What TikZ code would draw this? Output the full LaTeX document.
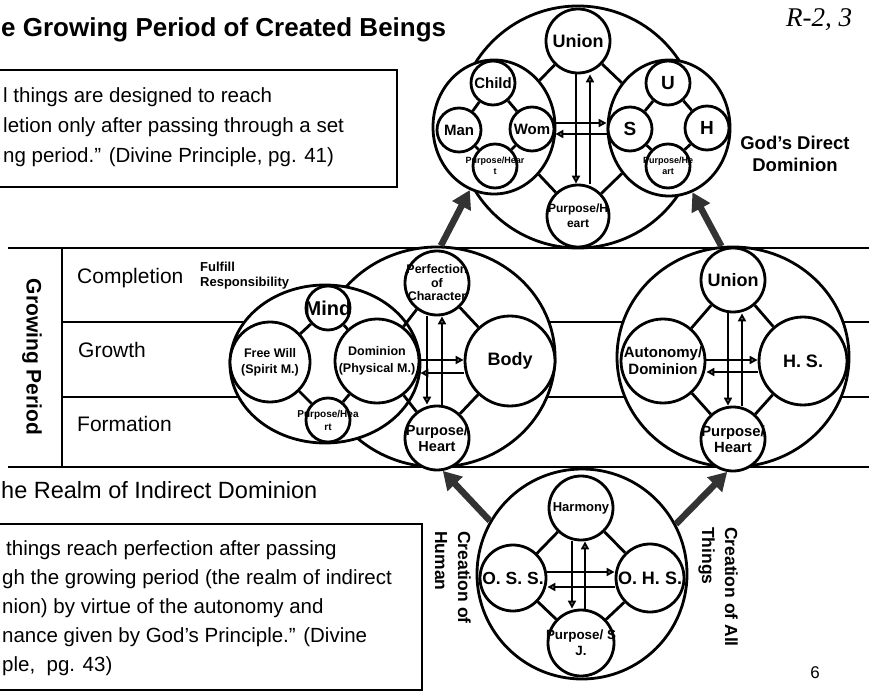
\documentclass[tikz,border=0pt]{standalone}
\usepackage{fontspec}
\setmainfont{Liberation Sans}
\newfontfamily\seriffont{Liberation Serif}
\usetikzlibrary{shapes.geometric,arrows.meta}

\newcommand{\fsz}[2]{\fontsize{#1}{#2}\selectfont}

\tikzset{
  ring/.style={circle, draw, line width=2.8pt, fill=white, inner sep=0pt},
  oval/.style={ellipse, draw, line width=2.8pt, fill=white, inner sep=0pt},
  lbl/.style={align=center, inner sep=0pt},
  link/.style={line width=2.8pt},
  flow/.style={line width=2pt, -{Triangle[open,length=8pt,width=8pt]}},
  bigarrow/.style={line width=6.5pt, black!80, -{Triangle[length=18pt,width=20pt]}},
  rule/.style={line width=2pt},
}

\begin{document}
\begin{tikzpicture}[x=1pt, y=-1pt]
                \useasboundingbox (0,0) rectangle (869,692);
                \fill[white] (0,0) rectangle (869,692);

                % Title and quote boxes
                \node[anchor=west, inner sep=0pt, font=\fsz{26}{30}\bfseries] (title) at (1,30) {e Growing Period of Created Beings};
                \node[font=\seriffont\itshape\fsz{27}{30}] (ref) at (819,20) {R-2, 3};
                \draw[line width=1.5pt] (-5,70) rectangle (397,187);
                \node[anchor=west, align=left, inner sep=0pt, font=\fsz{20.5}{30}] (quoteA) at (3,127)
                  {l things are designed to reach\\letion only after passing through a set\\ng period.” (Divine Principle, pg. 41)};
                \node[anchor=west, inner sep=0pt, font=\fsz{23.5}{28}] (realm) at (1,490) {he Realm of Indirect Dominion};
                \draw[line width=1.5pt] (-5,524) rectangle (422,690);
                \node[anchor=west, align=left, inner sep=0pt, font=\fsz{20.5}{29}] (quoteB) at (2,608)
                  {\hspace*{4pt}things reach perfection after passing\\gh the growing period (the realm of indirect\\nion) by virtue of the autonomy and\\nance given by God’s Principle.” (Divine\\ple,~ pg. 43)};
                \node[align=center, font=\fsz{18.5}{22}\bfseries] (direct) at (795,154) {God’s Direct\\Dominion};
                \node[font=\fsz{17}{20}] (pg) at (815,673) {6};

                % Growing period table
                \draw[rule] (8,248) -- (869,248);
                \draw[rule] (62,322) -- (869,322);
                \draw[rule] (62,397) -- (869,397);
                \draw[rule] (8,467) -- (869,467);
                \draw[rule] (62,248) -- (62,467);
                \node[rotate=-90, font=\fsz{21}{24}\bfseries] (gp) at (32,357) {Growing Period};
                \node[anchor=west, inner sep=0pt, font=\fsz{21}{24}] (rowC) at (77,278) {Completion};
                \node[anchor=west, inner sep=0pt, font=\fsz{21}{24}] (rowG) at (78,350) {Growth};
                \node[anchor=west, inner sep=0pt, font=\fsz{21}{24}] (rowF) at (77,424) {Formation};
                \node[anchor=west, align=left, inner sep=0pt, font=\fsz{13}{15}\bfseries] (fulfill) at (200,276) {Fulfill\\Responsibility};

                % Top cluster (direct dominion)
                \node[ring, minimum size=242pt] (tOut) at (578,127) {};
                \node[oval, minimum width=122pt, minimum height=134pt] (tL) at (494,127) {};
                \node[oval, minimum width=122pt, minimum height=136pt] (tR) at (669,128) {};
                \node[ring, minimum size=64pt, label={[lbl, font=\fsz{18}{20}\bfseries]center:Union}] (tUn) at (578,41) {};
                \node[ring, minimum size=62pt, label={[lbl, font=\fsz{12}{15}\bfseries]center:{Purpose/H\\eart}}] (tPH) at (578,216) {};
                \node[ring, minimum size=44pt, label={[lbl, font=\fsz{15}{17}\bfseries]center:Child}] (tCh) at (493,83) {};
                \node[ring, minimum size=44pt, label={[lbl, font=\fsz{15}{17}\bfseries]center:Man}] (tMa) at (459,130) {};
                \node[ring, minimum size=44pt, label={[lbl, font=\fsz{15}{17}\bfseries]center:Wom}] (tWo) at (532,129) {};
                \node[ring, minimum size=44pt, label={[lbl, font=\fsz{9}{11}\bfseries]center:{Purpose/Hear\\t}}] (tPl) at (495,166) {};
                \node[ring, minimum size=44pt, label={[lbl, font=\fsz{19}{21}\bfseries]center:U}] (tU) at (668,83) {};
                \node[ring, minimum size=44pt, label={[lbl, font=\fsz{19}{21}\bfseries]center:S}] (tS) at (630,129) {};
                \node[ring, minimum size=44pt, label={[lbl, font=\fsz{19}{21}\bfseries]center:H}] (tH) at (707,128) {};
                \node[ring, minimum size=44pt, label={[lbl, font=\fsz{9}{11}\bfseries]center:{Purpose/He\\art}}] (tPr) at (668,166) {};
                \draw[link] (tUn) -- (tL);
                \draw[link] (tUn) -- (tR);
                \draw[link] (tPH) -- (tL);
                \draw[link] (tPH) -- (tR);
                \draw[link] (tCh) -- (tMa);
                \draw[link] (tCh) -- (tWo);
                \draw[link] (tPl) -- (tMa);
                \draw[link] (tPl) -- (tWo);
                \draw[link] (tU) -- (tS);
                \draw[link] (tU) -- (tH);
                \draw[link] (tPr) -- (tS);
                \draw[link] (tPr) -- (tH);
                \draw[flow] ([xshift=-2pt]tUn.south) -- ([xshift=-2pt]tPH.north);
                \draw[flow] ([xshift=12pt]tPH.north) -- ([xshift=12pt]tUn.south);
                \draw[flow] ([yshift=6pt]tWo.east) -- ([yshift=6pt]tS.west);
                \draw[flow] ([yshift=-5pt]tS.west) -- ([yshift=-5pt]tWo.east);

                % Middle left cluster (human)
                \node[oval, minimum width=236pt, minimum height=220pt] (mOut) at (437,357) {};
                \node[oval, minimum width=190pt, minimum height=158pt] (mMd) at (325,364) {};
                \node[ring, minimum size=64pt, label={[lbl, font=\fsz{12.5}{13.5}\bfseries]center:{Perfection\\of\\Character}}] (mPC) at (437,283) {};
                \node[ring, minimum size=64pt, label={[lbl, font=\fsz{14.5}{16}\bfseries]center:{Purpose/\\Heart}}] (mPH) at (437,438) {};
                \node[ring, minimum size=90pt, label={[lbl, font=\fsz{18}{20}\bfseries]center:Body}] (mBo) at (510,361) {};
                \node[ring, minimum size=84pt, label={[lbl, font=\fsz{12.5}{17}\bfseries]center:{Dominion\\(Physical M.)}}] (mDo) at (377,361) {};
                \node[ring, minimum size=44pt, label={[lbl, font=\fsz{20}{22}\bfseries]center:Mind}] (mMi) at (328,308) {};
                \node[ring, minimum size=80pt, label={[lbl, font=\fsz{12.5}{16}\bfseries]center:{Free Will\\(Spirit M.)}}] (mFW) at (270,362) {};
                \node[ring, minimum size=44pt, label={[lbl, font=\fsz{10}{13}\bfseries]center:{Purpose/Hea\\rt}}] (mPs) at (328,420) {};
                \draw[link] (mPC) -- (mDo);
                \draw[link] (mPC) -- (mBo);
                \draw[link] (mPH) -- (mDo);
                \draw[link] (mPH) -- (mBo);
                \draw[link] (mMi) -- (mFW);
                \draw[link] (mMi) -- (mDo);
                \draw[link] (mPs) -- (mFW);
                \draw[link] (mPs) -- (mDo);
                \draw[flow] ([xshift=-10pt]mPC.south) -- ([xshift=-10pt]mPH.north);
                \draw[flow] ([xshift=5pt]mPH.north) -- ([xshift=5pt]mPC.south);
                \draw[flow] ([yshift=1pt]mDo.east) -- ([yshift=1pt]mBo.west);
                \draw[flow] ([yshift=-12pt]mBo.west) -- ([yshift=-12pt]mDo.east);

                % Middle right cluster (all things)
                \node[oval, minimum width=232pt, minimum height=220pt] (rOut) at (733,357) {};
                \node[ring, minimum size=64pt, label={[lbl, font=\fsz{18}{20}\bfseries]center:Union}] (rUn) at (733,280) {};
                \node[ring, minimum size=64pt, label={[lbl, font=\fsz{14.8}{16}\bfseries]center:{Purpose/\\Heart}}] (rPH) at (733,439) {};
                \node[ring, minimum size=84pt, label={[lbl, font=\fsz{15}{17}\bfseries]center:{Autonomy/\\Dominion}}] (rAD) at (663,361) {};
                \node[ring, minimum size=88pt, label={[lbl, font=\fsz{18}{20}\bfseries]center:H. S.}] (rHS) at (803,361) {};
                \draw[link] (rUn) -- (rAD);
                \draw[link] (rUn) -- (rHS);
                \draw[link] (rPH) -- (rAD);
                \draw[link] (rPH) -- (rHS);
                \draw[flow] ([xshift=-5pt]rUn.south) -- ([xshift=-5pt]rPH.north);
                \draw[flow] ([xshift=9pt]rPH.north) -- ([xshift=9pt]rUn.south);
                \draw[flow] ([yshift=1pt]rAD.east) -- ([yshift=1pt]rHS.west);
                \draw[flow] ([yshift=-11pt]rHS.west) -- ([yshift=-11pt]rAD.east);

                % Bottom cluster (origin)
                \node[ring, minimum size=210pt] (bOut) at (582,574) {};
                \node[ring, minimum size=64pt, label={[lbl, font=\fsz{13}{15}\bfseries]center:Harmony}] (bHa) at (581,508) {};
                \node[ring, minimum size=66pt, label={[lbl, font=\fsz{17.5}{20}\bfseries]center:O. S. S.}] (bOS) at (513,578) {};
                \node[ring, minimum size=68pt, label={[lbl, font=\fsz{18}{20}\bfseries]center:O. H. S.}] (bOH) at (650,578) {};
                \node[ring, minimum size=66pt, label={[lbl, font=\fsz{13.4}{16}\bfseries]center:{Purpose/ S\\J.}}] (bPS) at (581,643) {};
                \draw[link] (bHa) -- (bOS);
                \draw[link] (bHa) -- (bOH);
                \draw[link] (bPS) -- (bOS);
                \draw[link] (bPS) -- (bOH);
                \draw[flow] ([xshift=-9pt]bHa.south) -- ([xshift=-9pt]bPS.north);
                \draw[flow] ([xshift=4pt]bPS.north) -- ([xshift=4pt]bHa.south);
                \draw[flow] ([yshift=6pt]bOS.east) -- ([yshift=6pt]bOH.west);
                \draw[flow] ([yshift=-9pt]bOH.west) -- ([yshift=-9pt]bOS.east);
                \node[rotate=-90, anchor=north west, align=left, inner sep=0pt, font=\fsz{17.5}{23}\bfseries] (crH) at (471,531) {Creation of\\Human};
                \node[rotate=-90, anchor=north west, align=left, inner sep=0pt, font=\fsz{17.5}{23}\bfseries] (crA) at (738,527) {Creation of All\\Things};

                % Growth arrows between stages
                \draw[bigarrow] (bOut.150) -- (mPH.280);
                \draw[bigarrow] (bOut.28) -- (rPH.260);
                \draw[bigarrow] (mOut.88) -- (tL.249);
                \draw[bigarrow] (rOut.96) -- (tR.290);

            \end{tikzpicture}
\end{document}
